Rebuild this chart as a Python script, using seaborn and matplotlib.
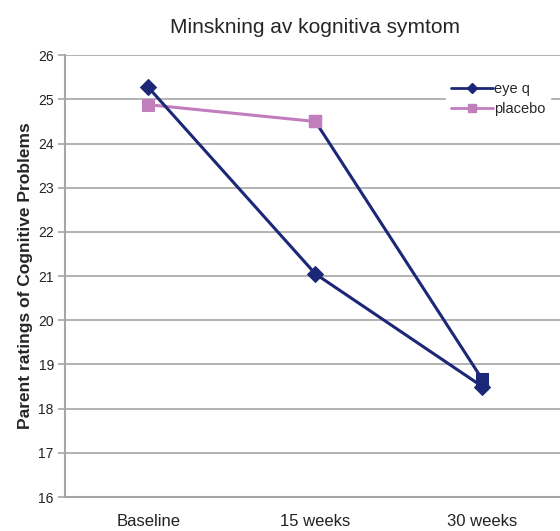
import matplotlib
matplotlib.use("Agg")
import matplotlib.pyplot as plt
from matplotlib.lines import Line2D
import seaborn as sns
import pandas as pd

categories = ["Baseline", "15 weeks", "30 weeks"]
eye_q = [25.27, 21.05, 18.5]
placebo = [24.88, 24.5, 18.66]
y_ticks = list(range(16, 27))

title = "Minskning av kognitiva symtom"
y_label = "Parent ratings of Cognitive Problems"

NAVY = "#1c2777"
PINK = "#c27dbd"
GRID = "#a6a6a6"

sns.set_style("white")
plt.rcParams["font.family"] = ["Liberation Sans", "DejaVu Sans"]

fig = plt.figure(figsize=(5.6, 5.31), dpi=100)
ax = fig.add_axes([0.116, 0.064, 0.884, 0.832])

x = list(range(len(categories)))
df_eye = pd.DataFrame({"x": x, "y": eye_q})
df_pl_a = pd.DataFrame({"x": x[:2], "y": placebo[:2]})
df_pl_b = pd.DataFrame({"x": x[1:], "y": placebo[1:]})

# placebo: first segment pink, second segment drawn in navy
sns.lineplot(data=df_pl_b, x="x", y="y", ax=ax, color=NAVY, lw=2.2,
             marker="s", markersize=9, markeredgecolor=NAVY, zorder=3)
sns.lineplot(data=df_pl_a, x="x", y="y", ax=ax, color=PINK, lw=2.2,
             marker="s", markersize=9, markeredgecolor=PINK, zorder=3)
ax.plot(x[1], placebo[1], marker="s", markersize=9, color=PINK, zorder=5)
sns.lineplot(data=df_eye, x="x", y="y", ax=ax, color=NAVY, lw=2.2,
             marker="D", markersize=8, markeredgecolor=NAVY, zorder=4)

ax.set_ylim(16, 26)
ax.set_xlim(-0.5, 2.465)
ax.set_yticks(y_ticks)
ax.set_yticklabels([str(t) for t in y_ticks], fontsize=10, color="#222222")
ax.set_xticks(x)
ax.set_xticklabels(categories, fontsize=12, color="#222222")
ax.set_xticks([0.5, 1.5], minor=True)
ax.tick_params(axis="x", which="major", length=0, pad=12)
ax.tick_params(axis="x", which="minor", length=5, color=GRID, width=1.2)
ax.tick_params(axis="y", length=5, color=GRID, width=1.2, pad=3, left=True)

ax.grid(axis="y", color=GRID, lw=1.2)
ax.set_axisbelow(True)
for side in ["top", "right"]:
    ax.spines[side].set_visible(False)
for side in ["left", "bottom"]:
    ax.spines[side].set_color(GRID)
    ax.spines[side].set_linewidth(1.5)

ax.set_xlabel("")
ax.set_ylabel(y_label, fontsize=12.5, fontweight="bold", labelpad=4)
fig.text(0.563, 0.948, title, ha="center", va="center", fontsize=15)

handles = [
    Line2D([], [], color=NAVY, lw=2, marker="D", markersize=5),
    Line2D([], [], color=PINK, lw=2, marker="s", markersize=6),
]
leg = ax.legend(handles, ["eye q", "placebo"], loc="upper right",
                bbox_to_anchor=(0.995, 0.966), frameon=True, fontsize=10.5,
                handlelength=2.9, handletextpad=0.1, labelspacing=0.4,
                borderpad=0.3, fancybox=False)
leg.get_frame().set_edgecolor("white")
leg.get_frame().set_facecolor("white")
leg.get_frame().set_alpha(1)

fig.savefig("out.png", dpi=100, facecolor="white")
